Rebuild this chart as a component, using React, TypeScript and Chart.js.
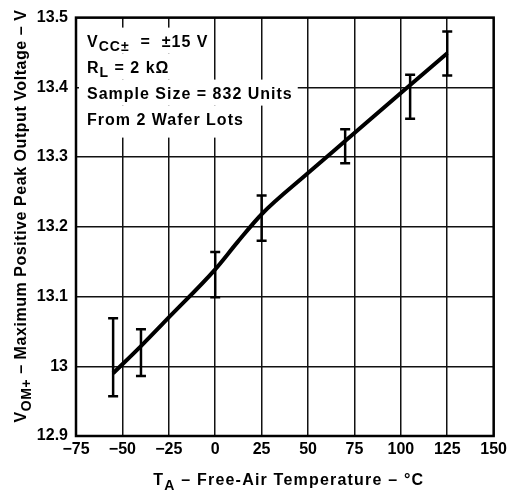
import React, { useEffect, useRef } from 'react';
import { Chart, registerables } from 'chart.js';

Chart.register(...registerables);

// Curve: VOM+ vs free-air temperature
const curveTemps = [-55, -40, -25, 0, 12, 25, 50, 70, 100, 125];
const curveVolts = [12.99, 13.029, 13.07, 13.139, 13.178, 13.218, 13.277, 13.323, 13.392, 13.449];

// Error bars (distribution spread)
const errTemps = [-55, -40, 0, 25, 70, 105, 125];
const errLow = [12.957, 12.986, 13.099, 13.18, 13.291, 13.355, 13.417];
const errHigh = [13.069, 13.053, 13.164, 13.245, 13.34, 13.418, 13.48];

// Axes
const xMin = -75;
const xMax = 150;
const xStep = 25;
const yMin = 12.9;
const yMax = 13.5;
const yStep = 0.1;

type Seg = { t: string; sub?: boolean };

const noteLines: Seg[][] = [
  [{ t: 'V' }, { t: 'CC±', sub: true }, { t: '  =  ±15 V' }],
  [{ t: 'R' }, { t: 'L', sub: true }, { t: ' = 2 kΩ' }],
  [{ t: 'Sample Size = 832 Units' }],
  [{ t: 'From 2 Wafer Lots' }],
];

const xTitle: Seg[] = [{ t: 'T' }, { t: 'A', sub: true }, { t: ' – Free-Air Temperature – °C' }];
const yTitle: Seg[] = [{ t: 'V' }, { t: 'OM+', sub: true }, { t: ' – Maximum Positive Peak Output Voltage – V' }];

const FONT = '"Liberation Sans", Arial, Helvetica, sans-serif';

function setFont(ctx: CanvasRenderingContext2D, size: number, spacing: number) {
  ctx.font = `bold ${size}px ${FONT}`;
  (ctx as any).letterSpacing = spacing + 'px';
}

function measureRich(ctx: CanvasRenderingContext2D, segs: Seg[], size: number, spacing: number) {
  let w = 0;
  for (const s of segs) {
    setFont(ctx, s.sub ? Math.round(size * 0.85) : size, spacing);
    w += ctx.measureText(s.t).width;
  }
  return w;
}

function drawRich(ctx: CanvasRenderingContext2D, segs: Seg[], x: number, y: number, size: number, spacing: number, subOff: number) {
  let cx = x;
  ctx.textAlign = 'left';
  ctx.textBaseline = 'alphabetic';
  for (const s of segs) {
    setFont(ctx, s.sub ? Math.round(size * 0.85) : size, spacing);
    ctx.fillText(s.t, cx, s.sub ? y + subOff : y);
    cx += ctx.measureText(s.t).width;
  }
  return cx - x;
}

const overlay = {
  id: 'overlay',
  beforeDatasetsDraw(chart: any) {
    const { ctx, chartArea: a } = chart;
    ctx.save();
    ctx.fillStyle = '#ffffff';
    const noteX = a.left + 11;
    noteLines.forEach((segs, i) => {
      const base = a.top + 29 + i * 26;
      const w = measureRich(ctx, segs, 16, 1);
      const right = Math.max(noteX + w + 5, a.left + 100);
      const top = base - 19;
      const h = i === noteLines.length - 1 ? 32 : 26;
      ctx.fillRect(a.left + 3, top, right - a.left - 3, h);
    });
    ctx.restore();
  },
  afterDatasetsDraw(chart: any) {
    const { ctx, chartArea: a, scales } = chart;
    const xs = scales.x;
    const ys = scales.y;
    ctx.save();
    ctx.strokeStyle = '#000';
    ctx.lineCap = 'butt';
    errTemps.forEach((t, i) => {
      const px = xs.getPixelForValue(t);
      const p1 = ys.getPixelForValue(errLow[i]);
      const p2 = ys.getPixelForValue(errHigh[i]);
      ctx.lineWidth = 2.5;
      ctx.beginPath();
      ctx.moveTo(px, p1);
      ctx.lineTo(px, p2);
      ctx.stroke();
      ctx.beginPath();
      ctx.moveTo(px - 5, p1);
      ctx.lineTo(px + 5, p1);
      ctx.moveTo(px - 5, p2);
      ctx.lineTo(px + 5, p2);
      ctx.stroke();
    });
    // frame
    ctx.lineWidth = 2.5;
    ctx.strokeRect(a.left, a.top, a.right - a.left, a.bottom - a.top);
    ctx.restore();
  },
  afterDraw(chart: any) {
    const { ctx, chartArea: a } = chart;
    ctx.save();
    ctx.fillStyle = '#000';
    const noteX = a.left + 11;
    noteLines.forEach((segs, i) => {
      drawRich(ctx, segs, noteX, a.top + 29 + i * 26, 16, 1, 4);
    });
    // x title
    const wx = measureRich(ctx, xTitle, 16, 1.2);
    const cx = (a.left + a.right) / 2 + 4;
    drawRich(ctx, xTitle, cx - wx / 2, 485, 16, 1.2, 5);
    // y title
    const wy = measureRich(ctx, yTitle, 16, 0.55);
    ctx.translate(26, 216);
    ctx.rotate(-Math.PI / 2);
    drawRich(ctx, yTitle, -wy / 2, 0, 16, 0.55, 5);
    ctx.restore();
  },
};

export default function App() {
  const ref = useRef<HTMLCanvasElement | null>(null);
  useEffect(() => {
    if (!ref.current) return;
    const chart = new Chart(ref.current, {
      type: 'line',
      data: {
        datasets: [
          {
            data: curveTemps.map((t, i) => ({ x: t, y: curveVolts[i] })),
            borderColor: '#000',
            borderWidth: 4,
            pointRadius: 0,
            fill: false,
            cubicInterpolationMode: 'monotone',
            borderCapStyle: 'butt',
          },
        ],
      },
      options: {
        responsive: false,
        animation: false,
        events: [],
        layout: { padding: { left: 0, top: 16, right: 17, bottom: 0 } },
        plugins: { legend: { display: false }, tooltip: { enabled: false }, title: { display: false } },
        scales: {
          x: {
            type: 'linear',
            min: xMin,
            max: xMax,
            afterFit: (s: any) => {
              s.height = 56;
            },
            ticks: {
              stepSize: xStep,
              color: '#000',
              padding: 4,
              maxRotation: 0,
              font: { family: FONT, size: 16, weight: 'bold' },
              callback: (v: any) => (Number(v) < 0 ? '−' + Math.abs(Number(v)) : String(v)),
            },
            grid: { color: '#111', lineWidth: 1.5, drawTicks: false },
            border: { display: false },
          },
          y: {
            type: 'linear',
            min: yMin,
            max: yMax,
            afterFit: (s: any) => {
              s.width = 76;
            },
            ticks: {
              stepSize: yStep,
              color: '#000',
              padding: 8,
              font: { family: FONT, size: 16, weight: 'bold' },
              callback: (v: any) => {
                const n = Number(v);
                return Math.abs(n - Math.round(n)) < 1e-6 ? String(Math.round(n)) : n.toFixed(1);
              },
            },
            grid: { color: '#111', lineWidth: 1.5, drawTicks: false },
            border: { display: false },
          },
        },
      },
      plugins: [overlay],
    } as any);
    return () => chart.destroy();
  }, []);
  return (
    <div style={{ position: 'absolute', left: 0, top: 0, width: 511, height: 492, background: '#fff' }}>
      <canvas ref={ref} width={511} height={492} style={{ display: 'block' }} />
    </div>
  );
}
